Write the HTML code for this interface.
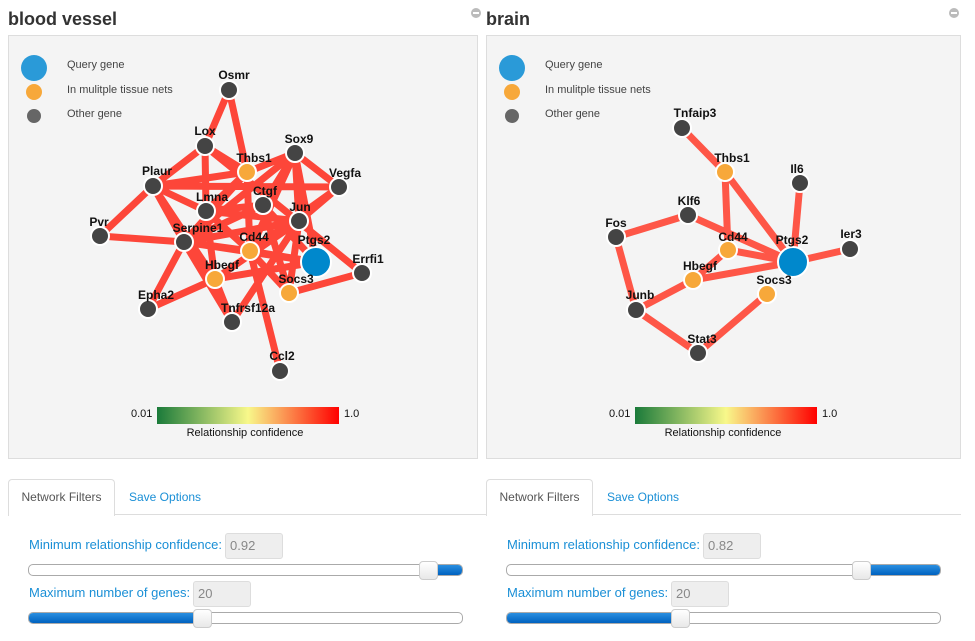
<!DOCTYPE html><html><head><style>
body{margin:0;width:975px;height:641px;background:#fff;font-family:"Liberation Sans",sans-serif;position:relative;overflow:hidden}
.a{position:absolute}
.t{font-weight:bold;font-size:18px;color:#333}
.tab{border:1px solid #ddd;border-bottom:none;background:#fff;font-size:12px;color:#555;text-align:center;line-height:35px;border-radius:4px 4px 0 0}
.lbl{font-size:13px;color:#1a8fd6}
.inp{background:#eee;border:1px solid #ddd;border-radius:3px;font-size:13px;color:#888;line-height:24px;padding-left:4px;box-sizing:border-box}
.sl{border:1px solid #aaa;border-radius:5px;height:12px;box-sizing:border-box;background:#fff;overflow:hidden}
.fill{background:linear-gradient(#2a8fe0,#0062bf);height:100%}
.h{width:19px;height:19px;border:1px solid #ccc;border-radius:4px;background:linear-gradient(#fff,#e8e8e8);box-sizing:border-box}
</style></head><body>
<svg class="a" style="left:0;top:0" width="975" height="460">
<defs><linearGradient id="g"><stop offset="0" stop-color="#1a7a3a"/><stop offset=".5" stop-color="#f8f88a"/><stop offset="1" stop-color="#f00"/></linearGradient></defs>
<rect x="8.5" y="35.5" width="469" height="423" fill="#f4f4f4" stroke="#ddd"/>
<rect x="486.5" y="35.5" width="474" height="423" fill="#f4f4f4" stroke="#ddd"/>
<circle cx="476" cy="13" r="5" fill="#bbb"/><rect x="473" y="12" width="6" height="2" fill="#fff"/>
<circle cx="954" cy="13" r="5" fill="#bbb"/><rect x="951" y="12" width="6" height="2" fill="#fff"/>
<g font-size="11" fill="#444">
<circle cx="34" cy="68" r="13" fill="#2a9ad8"/><circle cx="34" cy="92" r="8" fill="#f7a83a"/><circle cx="34" cy="116" r="7" fill="#666"/>
<text x="67" y="68">Query gene</text><text x="67" y="93">In mulitple tissue nets</text><text x="67" y="117">Other gene</text>
<circle cx="512" cy="68" r="13" fill="#2a9ad8"/><circle cx="512" cy="92" r="8" fill="#f7a83a"/><circle cx="512" cy="116" r="7" fill="#666"/>
<text x="545" y="68">Query gene</text><text x="545" y="93">In mulitple tissue nets</text><text x="545" y="117">Other gene</text>
</g>
<g stroke="#ff1a0a" stroke-opacity=".8" stroke-width="7">
<path d="M229 90L205 146M229 90L247 172M205 146L153 186M205 146L206 211M205 146L247 172M205 146L362 273M153 186L247 172M153 186L100 236M153 186L206 211M153 186L184 242M153 186L339 187M153 186L215 279M247 172L295 153M247 172L206 211M247 172L184 242M247 172L250 251M295 153L339 187M295 153L263 205M295 153L299 221M295 153L184 242M295 153L250 251M295 153L316 262M339 187L299 221M339 187L250 251M206 211L263 205M206 211L299 221M206 211L215 279M206 211L250 251M263 205L289 293M263 205L316 262M263 205L184 242M299 221L184 242M299 221L232 322M299 221L289 293M299 221L215 279M100 236L184 242M184 242L250 251M184 242L316 262M184 242L148 309M184 242L215 279M184 242L232 322M250 251L280 371M250 251L289 293M250 251L316 262M215 279L148 309M215 279L316 262M215 279L232 322M289 293L362 273"/>
</g>
<g stroke="#ff3a28" stroke-opacity=".85" stroke-width="7">
<path d="M682 128L725 172M725 172L728 250M725 172L793 262M800 183L793 262M688 215L616 237M688 215L793 262M616 237L636 310M728 250L793 262M793 262L850 249M693 280L793 262M693 280L636 310M767 294L698 353M636 310L698 353M728 250L693 280"/>
</g>
<g stroke="#fff" stroke-width="2">
<g fill="#444"><circle cx="229" cy="90" r="9"/><circle cx="205" cy="146" r="9"/><circle cx="295" cy="153" r="9"/><circle cx="339" cy="187" r="9"/><circle cx="153" cy="186" r="9"/><circle cx="206" cy="211" r="9"/><circle cx="263" cy="205" r="9"/><circle cx="299" cy="221" r="9"/><circle cx="100" cy="236" r="9"/><circle cx="184" cy="242" r="9"/><circle cx="362" cy="273" r="9"/><circle cx="148" cy="309" r="9"/><circle cx="232" cy="322" r="9"/><circle cx="280" cy="371" r="9"/>
<circle cx="682" cy="128" r="9"/><circle cx="800" cy="183" r="9"/><circle cx="688" cy="215" r="9"/><circle cx="616" cy="237" r="9"/><circle cx="850" cy="249" r="9"/><circle cx="636" cy="310" r="9"/><circle cx="698" cy="353" r="9"/></g>
<g fill="#f7a83a"><circle cx="247" cy="172" r="9"/><circle cx="250" cy="251" r="9"/><circle cx="215" cy="279" r="9"/><circle cx="289" cy="293" r="9"/><circle cx="725" cy="172" r="9"/><circle cx="728" cy="250" r="9"/><circle cx="693" cy="280" r="9"/><circle cx="767" cy="294" r="9"/></g>
<circle cx="316" cy="262" r="15" fill="#0088cc"/><circle cx="793" cy="262" r="15" fill="#0088cc"/>
</g>
<g font-size="12" font-weight="bold" fill="#111" text-anchor="middle">
<text x="234" y="79">Osmr</text><text x="205" y="135">Lox</text><text x="254" y="162">Thbs1</text><text x="299" y="143">Sox9</text><text x="345" y="177">Vegfa</text><text x="157" y="175">Plaur</text><text x="212" y="201">Lmna</text><text x="265" y="195">Ctgf</text><text x="300" y="211">Jun</text><text x="99" y="226">Pvr</text><text x="198" y="232">Serpine1</text><text x="254" y="241">Cd44</text><text x="314" y="244">Ptgs2</text><text x="368" y="263">Errfi1</text><text x="222" y="269">Hbegf</text><text x="296" y="283">Socs3</text><text x="156" y="299">Epha2</text><text x="248" y="312">Tnfrsf12a</text><text x="282" y="360">Ccl2</text>
<text x="695" y="117">Tnfaip3</text><text x="732" y="162">Thbs1</text><text x="797" y="173">Il6</text><text x="689" y="205">Klf6</text><text x="616" y="227">Fos</text><text x="733" y="241">Cd44</text><text x="792" y="244">Ptgs2</text><text x="851" y="238">Ier3</text><text x="700" y="270">Hbegf</text><text x="774" y="284">Socs3</text><text x="640" y="299">Junb</text><text x="702" y="343">Stat3</text>
</g>
<g font-size="11" fill="#111">
<rect x="157" y="407" width="182" height="17" fill="url(#g)"/><text x="131" y="417">0.01</text><text x="344" y="417">1.0</text><text x="245" y="436" text-anchor="middle">Relationship confidence</text>
<rect x="635" y="407" width="182" height="17" fill="url(#g)"/><text x="609" y="417">0.01</text><text x="822" y="417">1.0</text><text x="723" y="436" text-anchor="middle">Relationship confidence</text>
</g>
</svg>
<div class="a t" style="left:8px;top:9px">blood vessel</div>
<div class="a t" style="left:486px;top:9px">brain</div>
<div class="a" style="left:8px;top:514px;width:953px;height:1px;background:#ddd"></div>
<div class="a tab" style="left:8px;top:479px;width:105px;height:36px">Network Filters</div>
<div class="a" style="left:129px;top:490px;font-size:12px;color:#1a8fd6">Save Options</div>
<div class="a tab" style="left:486px;top:479px;width:105px;height:36px">Network Filters</div>
<div class="a" style="left:607px;top:490px;font-size:12px;color:#1a8fd6">Save Options</div>

<div class="a lbl" style="left:29px;top:537px">Minimum relationship confidence:</div>
<div class="a inp" style="left:225px;top:533px;width:58px;height:26px">0.92</div>
<div class="a sl" style="left:28px;top:564px;width:435px"><div class="fill" style="margin-left:405px"></div></div>
<div class="a h" style="left:419px;top:561px"></div>
<div class="a lbl" style="left:29px;top:585px">Maximum number of genes:</div>
<div class="a inp" style="left:193px;top:581px;width:58px;height:26px">20</div>
<div class="a sl" style="left:28px;top:612px;width:435px"><div class="fill" style="width:175px"></div></div>
<div class="a h" style="left:193px;top:609px"></div>

<div class="a lbl" style="left:507px;top:537px">Minimum relationship confidence:</div>
<div class="a inp" style="left:703px;top:533px;width:58px;height:26px">0.82</div>
<div class="a sl" style="left:506px;top:564px;width:435px"><div class="fill" style="margin-left:360px"></div></div>
<div class="a h" style="left:852px;top:561px"></div>
<div class="a lbl" style="left:507px;top:585px">Maximum number of genes:</div>
<div class="a inp" style="left:671px;top:581px;width:58px;height:26px">20</div>
<div class="a sl" style="left:506px;top:612px;width:435px"><div class="fill" style="width:175px"></div></div>
<div class="a h" style="left:671px;top:609px"></div>
</body></html>
